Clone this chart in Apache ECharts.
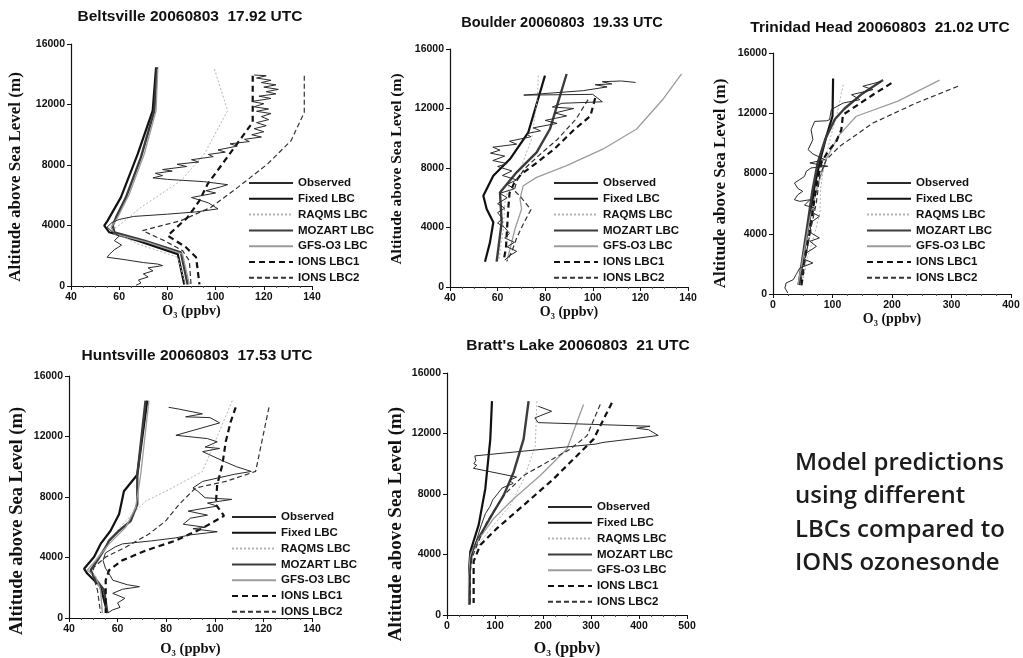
<!DOCTYPE html>
<html>
<head>
<meta charset="utf-8">
<title>Ozone profiles</title>
<script src="https://cdn.jsdelivr.net/npm/echarts@6/dist/echarts.min.js"></script>
<style>
html, body { margin: 0; padding: 0; background: #fff; }
#chart { width: 1023px; height: 658px; }
</style>
</head>
<body>
<div id="chart"></div>
<script>
// series names (legend order)
var seriesNames = ['Observed', 'Fixed LBC', 'RAQMS LBC', 'MOZART LBC', 'GFS-O3 LBC', 'IONS LBC1', 'IONS LBC2'];

// [O3 ppbv, altitude m]
// --- Beltsville 20060803 17.92 UTC
var beltObs = [[116,13950],[121,13900],[117,13750],[123,13600],[119,13450],[125,13300],[120,13150],[126,13000],[121,12850],[125,12700],[118,12550],[123,12400],[115,12200],[120,12050],[116,11850],[122,11700],[117,11550],[123,11400],[119,11200],[122,11000],[117,10800],[121,10600],[116,10400],[120,10200],[115,10000],[119,9850],[112,9700],[114,9550],[106,9400],[109,9250],[101,9000],[104,8850],[97,8700],[99,8550],[90,8350],[93,8200],[84,8050],[88,7900],[78,7700],[82,7600],[75,7450],[78,7300],[74,7150],[80,7050],[95,6900],[105,6700],[102,6550],[96,6300],[100,6150],[90,5850],[97,5500],[101,5100],[92,4900],[80,4750],[66,4600],[60,4400],[57,4200],[55,3900],[57,3600],[60,3300],[58,3000],[61,2700],[58,2400],[56,2100],[55,1900],[62,1750],[70,1550],[76,1450],[78,1350],[72,1200],[74,1000],[70,800],[72,600],[68,400],[69,200],[67,50]];
var beltFixed = [[75.3,14460],[73.9,11600],[67.7,8730],[60.7,5860],[55.2,4320],[53.8,3990],[55.9,3550],[67.7,3000],[84.3,2110],[87,100]];
var beltRaqms = [[99.5,14350],[105,11600],[95.3,8730],[85.6,6960],[69,5200],[60.7,4100],[56.6,3660],[67.7,2780],[84.3,1900],[87.5,100]];
var beltMozart = [[75.7,14460],[74.6,11600],[69,8500],[62.8,5860],[58.7,4540],[57.3,3990],[58,3550],[70.4,3000],[85.6,2220],[88.4,100]];
var beltGfs = [[76,14350],[75.3,11600],[70.4,8730],[64.2,6080],[59.4,4540],[56.6,3880],[58,3440],[71.8,2890],[86.3,2110],[89.1,100]];
var beltIons1 = [[115.4,13900],[115.4,10820],[96.7,6740],[93.3,5640],[88.4,4540],[80.1,3330],[87.7,2560],[91.9,1900],[93.3,100]];
var beltIons2 = [[136.8,13900],[136.8,11480],[131.3,9610],[121.6,8070],[109.2,6520],[98.1,5200],[85.6,4320],[69.7,3660],[78.7,3000],[86.3,2340],[89.1,1670],[89.8,100]];

// --- Boulder 20060803 19.33 UTC
var bouldObs = [[118,13750],[112,13850],[104,13800],[108,13650],[101,13600],[106,13450],[96,13200],[71,12900],[100,12950],[104,12450],[87,12350],[83,12100],[92,12000],[84,11700],[89,11500],[80,11200],[85,11000],[75,10700],[78,10500],[72,10300],[74,10100],[65,9800],[68,9600],[58,9400],[61,9200],[57,9000],[63,8800],[58,8500],[64,8300],[60,8100],[66,7800],[62,7500],[68,7200],[64,6900],[67,6600],[61,6300],[64,6000],[60,5600],[63,5300],[60,5000],[62,4600],[60,4300],[63,4000],[65,3600],[63,3300],[67,3000],[64,2700],[68,2400],[65,2100],[63,1800]];
var bouldFixed = [[79.9,14210],[72.9,10400],[65.2,8600],[58.2,7480],[54,6140],[55.4,5240],[58.2,4350],[56.8,3000],[54.7,1700]];
var bouldRaqms = [[77.1,14210],[76.7,12640],[74.3,9950],[70.1,8160],[65.2,7040],[63.1,5690],[62.4,3900],[61,2330],[60.5,1750]];
var bouldMozart = [[89,14320],[82,10620],[76.4,9050],[68,7710],[61,6360],[61.7,4350],[59.6,1700]];
var bouldGfs = [[137.3,14320],[129.6,12640],[118.4,10620],[104.4,9280],[89,8160],[76.4,7370],[70.8,6810],[69.4,5920],[70.1,5240],[67.3,3900],[65.2,2550],[63.8,1700]];
var bouldIons1 = [[101,12700],[99,11500],[92,10550],[84,9300],[76,8300],[70,7600],[67,7000],[65,6300],[64.5,5300],[64,4000],[63.5,2600],[62.5,1750]];
var bouldIons2 = [[98,12600],[93,11300],[85,9900],[77,8800],[71,7900],[68,7100],[67,6500],[70,6000],[74,5200],[71,4300],[68,3300],[66,2400],[64,1750]];

// --- Trinidad Head 20060803 21.02 UTC
var trinObs = [[182,14120],[151,13790],[168,13570],[132,13230],[146,12900],[118,12680],[98,12240],[95,11570],[90,11500],[70,11460],[64,10900],[67,10250],[59,9580],[67,9300],[87,8920],[62,8700],[92,8480],[64,8370],[56,8150],[53,7810],[45,7600],[36,7370],[42,7000],[50,6820],[42,6600],[36,6260],[45,6150],[62,6260],[53,5900],[70,5710],[64,5450],[78,5160],[62,4700],[64,4050],[78,3720],[62,3500],[73,3160],[56,2720],[53,2300],[67,2060],[45,1730],[39,1300],[34,950],[22,730],[20,400],[25,60]];
var trinFixed = [[101,14300],[100,11800],[90,10500],[80,9000],[70,7200],[62,5000],[52,2800],[44,600]];
var trinRaqms = [[118,13900],[108,12000],[96,10300],[86,8600],[80,7000],[79,5400],[70,4000],[58,2400],[50,800]];
var trinMozart = [[185,14200],[150,13300],[120,12300],[104,11600],[88,10300],[75,8700],[66,6800],[58,4600],[50,2500],[43,600]];
var trinGfs = [[280,14200],[210,12800],[140,11800],[110,10500],[90,9000],[75,7200],[62,5000],[53,3000],[42,600]];
var trinIons1 = [[199,14000],[168,13230],[117.6,11900],[114.8,10900],[106.4,10140],[92.4,9470],[81.2,8700],[72.8,7150],[67.2,5600],[61.6,4050],[53.2,2280],[47.6,510]];
var trinIons2 = [[310.8,13790],[240.8,12680],[168,11350],[112,9800],[89.6,8920],[78.4,7810],[72.8,6040],[64.4,4490],[56,2720],[47.6,950]];

// --- Huntsville 20060803 17.53 UTC
var huntObs = [[81,13930],[85,13820],[94.9,13500],[88,13300],[98,13250],[102,12900],[84,12080],[97,11860],[101,11650],[96,11300],[102,11210],[95,11000],[104,10340],[109,10000],[115,9690],[108,9500],[95,9030],[91,8600],[93,8380],[96,7950],[107,7840],[97,7600],[101,7400],[89,7070],[97,6800],[90,6600],[87,6200],[96,6000],[91,5900],[101,5700],[90,5500],[84,5300],[74,5100],[62,4900],[59,4700],[55,4300],[54,3800],[55,3300],[57,2800],[58,2500],[64,2200],[69,2070],[62,1900],[58,1630],[63,1300],[60,1000],[61,700],[58,540],[56,330]];
var huntFixed = [[72.2,14370],[68.1,9470],[62.6,8380],[60.6,6860],[57.1,5770],[53,4900],[50.3,4030],[46.2,3260],[47.5,2940],[53,2070],[55.1,760],[55.8,330]];
var huntRaqms = [[107.2,14370],[94.9,9690],[81.2,8490],[71.6,7730],[63.3,6420],[56.5,5120],[51,3810],[49.6,2940],[53,1850],[53.7,330]];
var huntMozart = [[71.5,14370],[68.1,9470],[68.1,7510],[65.4,6420],[60.6,5770],[56.5,5120],[55.1,4680],[51.7,3810],[48.9,3160],[50.3,2720],[54.4,1850],[55.8,330]];
var huntGfs = [[72.9,14370],[69.5,9470],[67.4,7290],[63.3,5990],[56.5,4900],[51,3810],[47.5,3160],[51,2720],[53,1850],[53.7,330]];
var huntIons1 = [[108.6,13930],[106.5,12950],[104.5,11650],[103.1,10120],[101,8820],[100.4,7510],[103.8,6750],[94.2,5880],[83.9,5120],[71.6,4460],[61.9,3810],[56.5,3160],[55.1,2500],[55.1,330]];
var huntIons2 = [[122.3,13930],[116.8,9690],[104.5,9030],[92.1,8600],[85.3,7510],[79.8,6420],[72.9,5550],[63.3,4680],[55.1,4030],[50.3,3370],[49.6,2940],[51.7,1850],[53,330]];

// --- Bratt's Lake 20060803 21 UTC
var brattObs = [[190,13800],[218,13470],[183,13030],[190,12720],[423,12480],[395,12350],[420,12250],[440,11870],[400,11700],[325,11410],[310,11300],[58,10520],[60,10200],[56,10000],[62,9900],[55,9700],[145,9120],[130,8900],[138,8700],[115,8400],[105,8000],[95,7600],[90,7200],[80,6700],[72,6000],[65,5300],[57,4500],[50,3800],[48,3000],[47,2200],[46,1400],[46,700]];
var brattFixed = [[93.7,14140],[90.2,11630],[79.8,8350],[65.9,5940],[48.6,4200],[46,3000],[46,700]];
var brattRaqms = [[187.4,14140],[183.9,11190],[160,9000],[131.9,7260],[97.2,5940],[69.4,4850],[52,3980],[48,2500],[48,700]];
var brattMozart = [[170,14140],[159.6,11630],[138.8,9440],[118,7910],[97.2,6820],[69.4,5290],[52,4200],[47,3000],[47,700]];
var brattGfs = [[284.5,13920],[249.8,10970],[194.3,9220],[138.8,7690],[97.2,6380],[62.5,4850],[48.6,3980],[45,2500],[45,700]];
var brattIons1 = [[343.5,14030],[305.4,11630],[277.6,10750],[222,9000],[159.6,7260],[104.1,5730],[69.4,4630],[55.5,3540],[55.5,800]];
var brattIons2 = [[319.2,13920],[291.5,11850],[256.8,10970],[208.2,10100],[159.6,9220],[118,7910],[83.3,6160],[62.5,4630],[52,3760],[48.6,2900],[48.6,800]];

// line look per series name
var lineLook = {
    'Observed':   {color: '#2a2a2a', width: 1,   type: 'solid'},
    'Fixed LBC':  {color: '#111111', width: 2.2, type: 'solid'},
    'RAQMS LBC':  {color: '#b4b4b4', width: 1,   type: [2, 2]},
    'MOZART LBC': {color: '#3c3c3c', width: 2.4, type: 'solid'},
    'GFS-O3 LBC': {color: '#9c9c9c', width: 1.3, type: 'solid'},
    'IONS LBC1':  {color: '#111111', width: 2.2, type: [6, 4]},
    'IONS LBC2':  {color: '#333333', width: 1.2, type: [5, 3]}
};

// panel layout; yShift moves the rotated axis title down by that many px
var panels = [
    {title: 'Beltsville 20060803  17.92 UTC', tx: 190, ty: 17, tSize: 15.5,
     grid: {left: 71, top: 44, width: 241, height: 242}, xMin: 40, xMax: 140, xStep: 20,
     yGap: 47, ySize: 17, yShift: 12, xGap: 16, xSize: 14, legend: [248, 177],
     data: [beltObs, beltFixed, beltRaqms, beltMozart, beltGfs, beltIons1, beltIons2]},
    {title: 'Boulder 20060803  19.33 UTC', tx: 562, ty: 23, tSize: 14.5,
     grid: {left: 450, top: 49, width: 238, height: 238}, xMin: 40, xMax: 140, xStep: 20,
     yGap: 45, ySize: 15.5, yShift: 1, xGap: 14, xSize: 14, legend: [553, 177],
     data: [bouldObs, bouldFixed, bouldRaqms, bouldMozart, bouldGfs, bouldIons1, bouldIons2]},
    {title: 'Trinidad Head 20060803  21.02 UTC', tx: 880, ty: 28, tSize: 15.5,
     grid: {left: 773, top: 53, width: 238, height: 241}, xMin: 0, xMax: 400, xStep: 100,
     yGap: 44, ySize: 17, yShift: 10, xGap: 16, xSize: 14, legend: [866, 177],
     data: [trinObs, trinFixed, trinRaqms, trinMozart, trinGfs, trinIons1, trinIons2]},
    {title: 'Huntsville 20060803  17.53 UTC', tx: 197, ty: 356, tSize: 15.5,
     grid: {left: 69, top: 376, width: 243, height: 245}, xMin: 40, xMax: 140, xStep: 20,
     yGap: 42, ySize: 18.5, yShift: 24, xGap: 24, xSize: 14.5, legend: [231, 511],
     data: [huntObs, huntFixed, huntRaqms, huntMozart, huntGfs, huntIons1, huntIons2]},
    {title: 'Bratt\'s Lake 20060803  21 UTC', tx: 578, ty: 346, tSize: 15.5,
     grid: {left: 447, top: 373, width: 240, height: 244}, xMin: 0, xMax: 500, xStep: 100,
     yGap: 41, ySize: 19, yShift: 30, xGap: 26, xSize: 16, legend: [547, 501],
     data: [brattObs, brattFixed, brattRaqms, brattMozart, brattGfs, brattIons1, brattIons2]}
];

var tickFont = {color: '#111', fontSize: 10.5, fontWeight: 'bold', fontFamily: '"Liberation Sans", Arial, sans-serif'};
var serifFamily = '"Liberation Serif", "DejaVu Serif", serif';

var grids = [], xAxes = [], yAxes = [], series = [], legends = [], graphics = [];

panels.forEach(function (p, i) {
    grids.push({left: p.grid.left, top: p.grid.top, width: p.grid.width, height: p.grid.height, containLabel: false});
    xAxes.push({
        gridIndex: i, type: 'value', min: p.xMin, max: p.xMax, interval: p.xStep,
        axisLine: {show: true, onZero: false, lineStyle: {color: '#111', width: 1.2}},
        axisTick: {show: true, length: 4, lineStyle: {color: '#111'}},
        minorTick: {show: true, splitNumber: 4, length: 2, lineStyle: {color: '#555'}},
        splitLine: {show: false},
        axisLabel: Object.assign({margin: 6, formatter: function (v) { return String(v); }}, tickFont),
        name: 'O\u2083 (ppbv)', nameLocation: 'middle', nameGap: p.xGap,
        nameTextStyle: {color: '#111', fontSize: p.xSize, fontWeight: 'bold', fontFamily: serifFamily}
    });
    yAxes.push({
        gridIndex: i, type: 'value', min: 0, max: 16000, interval: 4000,
        axisLine: {show: true, onZero: false, lineStyle: {color: '#111', width: 1.2}},
        axisTick: {show: true, length: 4, lineStyle: {color: '#111'}},
        splitLine: {show: false},
        axisLabel: Object.assign({margin: 6, formatter: function (v) { return String(v); }}, tickFont),
        name: 'Altitude above Sea Level (m)', nameLocation: 'middle', nameGap: p.yGap,
        nameTextStyle: {color: '#111', fontSize: p.ySize, fontWeight: 'bold', fontFamily: serifFamily,
                        padding: [0, 2 * p.yShift, 0, 0]}
    });
    p.data.forEach(function (d, k) {
        var look = lineLook[seriesNames[k]];
        series.push({
            name: seriesNames[k], type: 'line', xAxisIndex: i, yAxisIndex: i,
            data: d, symbol: 'none', animation: false, z: k === 0 ? 4 : 3,
            color: look.color,
            lineStyle: {color: look.color, width: look.width, type: look.type}
        });
    });
    legends.push({
        orient: 'vertical', left: p.legend[0], top: p.legend[1], padding: 0,
        itemWidth: 44, itemHeight: 11, itemGap: 3.8, selectedMode: false,
        itemStyle: {opacity: 0},
        data: seriesNames,
        textStyle: {color: '#111', fontSize: 11.5, lineHeight: 11, fontWeight: 'bold',
                    fontFamily: '"Liberation Sans", Arial, sans-serif'}
    });
    graphics.push({
        type: 'text', x: p.tx, y: p.ty,
        style: {text: p.title, fill: '#111', font: 'bold ' + p.tSize + 'px "Liberation Sans", Arial, sans-serif',
                align: 'center', verticalAlign: 'middle', textAlign: 'center', textVerticalAlign: 'middle'}
    });
});

graphics.push({
    type: 'text', x: 795, y: 446,
    style: {text: 'Model predictions\nusing different\nLBCs compared to\nIONS ozonesonde',
            fill: '#1c1c1c', font: '600 24px "Open Sans", sans-serif', lineHeight: 33.5,
            align: 'left', verticalAlign: 'top', textAlign: 'left', textVerticalAlign: 'top'}
});

var chart = echarts.init(document.getElementById('chart'));
chart.setOption({
    backgroundColor: '#fff',
    animation: false,
    grid: grids,
    xAxis: xAxes,
    yAxis: yAxes,
    legend: legends,
    series: series,
    graphic: graphics
});
</script>
</body>
</html>
